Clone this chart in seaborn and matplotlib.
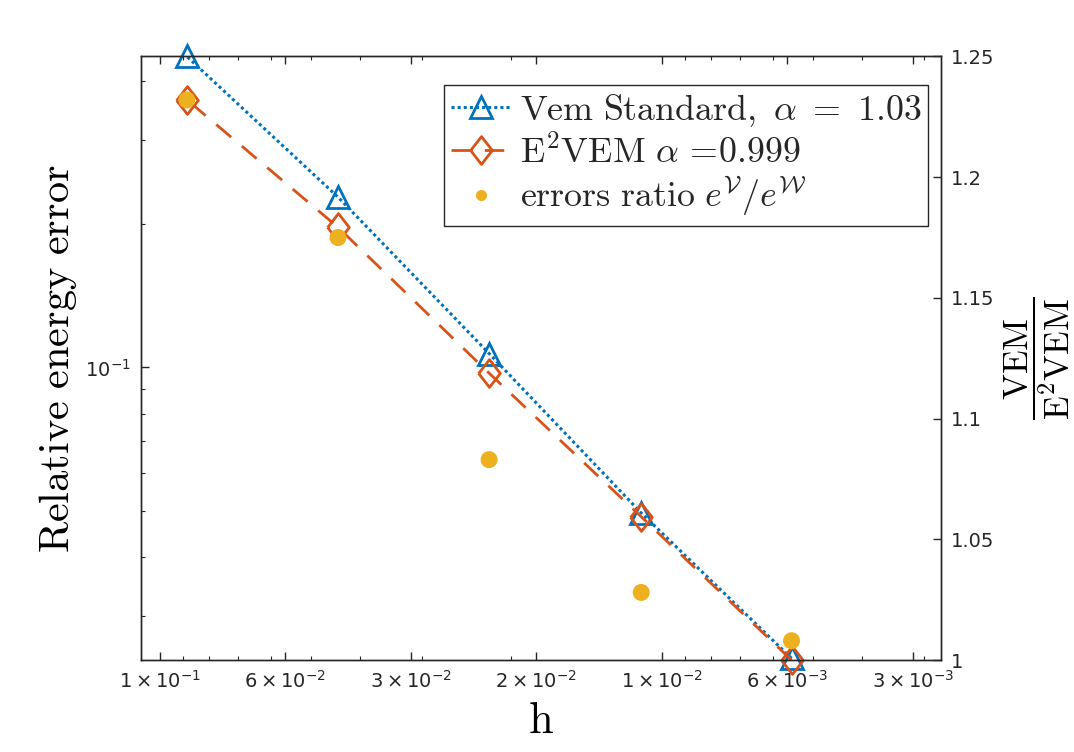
import numpy as np
import pandas as pd
import matplotlib
matplotlib.use("Agg")
import matplotlib.pyplot as plt
import seaborn as sns
from matplotlib.lines import Line2D
from matplotlib.ticker import FixedLocator, FixedFormatter, NullFormatter, LogLocator

# ---- data ----
h = [0.0884, 0.0442, 0.0221, 0.0110, 0.00552]
vem_standard = [0.450, 0.228, 0.107, 0.0495, 0.0245]
e2vem = [0.365, 0.197, 0.0973, 0.0486, 0.0243]
errors_ratio = [1.232, 1.175, 1.083, 1.028, 1.008]

x_tick_values = [10 ** (-1.0), 10 ** (-1.25), 10 ** (-1.5), 10 ** (-1.75),
                 10 ** (-2.0), 10 ** (-2.25), 10 ** (-2.5)]
x_tick_labels = [r'$1\times10^{-1}$', r'$6\times10^{-2}$', r'$3\times10^{-2}$',
                 r'$2\times10^{-2}$', r'$1\times10^{-2}$', r'$6\times10^{-3}$',
                 r'$3\times10^{-3}$']
left_tick_values = [0.1]
left_tick_labels = [r'$10^{-1}$']
right_tick_values = [1.0, 1.05, 1.1, 1.15, 1.2, 1.25]
right_tick_labels = ['1', '1.05', '1.1', '1.15', '1.2', '1.25']

label_vem = r'$\mathrm{Vem\ Standard,}\ \alpha\ {=}\ 1.03$'
label_e2 = r'$\mathrm{E^2VEM}\ \alpha\ \!{=}\!0.999$'
label_ratio = r'$\mathrm{errors\ ratio}\ e^{\mathcal{V}}/e^{\mathcal{W}}$'

df = pd.DataFrame({"h": h, "vem": vem_standard, "e2": e2vem, "ratio": errors_ratio})

BLUE = '#0072BD'
ORANGE = '#D95319'
YELLOW = '#EDB120'
AXC = '#262626'

sns.set_theme(style="white")
plt.rcParams['font.family'] = ['DejaVu Sans']
plt.rcParams['mathtext.fontset'] = 'dejavusans'
plt.rcParams['xtick.direction'] = 'in'
plt.rcParams['ytick.direction'] = 'in'

fig = plt.figure(figsize=(10.74, 7.52), dpi=100)
ax = fig.add_axes([0.1313, 0.1223, 0.7449, 0.8026])
ax2 = ax.twinx()

diamond = [(-0.39, 0.0), (0.0, 0.5), (0.39, 0.0), (0.0, -0.5), (-0.39, 0.0)]

sns.lineplot(data=df, x="h", y="vem", ax=ax, color=BLUE, linestyle=(0, (1, 1)),
             linewidth=2.2, marker='^', markersize=16, markerfacecolor='none',
             markeredgecolor=BLUE, markeredgewidth=2, clip_on=False, legend=False)
sns.lineplot(data=df, x="h", y="e2", ax=ax, color=ORANGE, linestyle=(0, (7, 5)),
             linewidth=2, marker=diamond, markersize=20, markerfacecolor='none',
             markeredgecolor=ORANGE, markeredgewidth=2, clip_on=False, legend=False)
sns.scatterplot(data=df, x="h", y="ratio", ax=ax2, color=YELLOW, s=150,
                edgecolor='none', clip_on=False, legend=False, zorder=5)

ax.set_xscale('log')
ax.set_yscale('log')
ax.set_xlim(0.1091, 0.00278)
ax.set_ylim(0.0243, 0.45)
ax2.set_ylim(1.0, 1.25)

ax.xaxis.set_major_locator(FixedLocator(x_tick_values))
ax.xaxis.set_major_formatter(FixedFormatter(x_tick_labels))
ax.xaxis.set_minor_locator(LogLocator(base=10, subs=np.arange(2, 10)))
ax.xaxis.set_minor_formatter(NullFormatter())
ax.yaxis.set_major_locator(FixedLocator(left_tick_values))
ax.yaxis.set_major_formatter(FixedFormatter(left_tick_labels))
ax.yaxis.set_minor_locator(LogLocator(base=10, subs=np.arange(2, 10)))
ax.yaxis.set_minor_formatter(NullFormatter())

ax2.yaxis.set_major_locator(FixedLocator(right_tick_values))
ax2.yaxis.set_major_formatter(FixedFormatter(right_tick_labels))

ax.tick_params(axis='x', which='both', top=True, bottom=True, colors=AXC, labelsize=14, pad=7)
ax.tick_params(axis='y', which='both', left=True, right=False, colors=AXC, labelsize=14, pad=7)
ax.tick_params(which='major', length=6, width=1)
ax.tick_params(which='minor', length=3, width=0.8)
ax2.tick_params(axis='y', which='major', right=True, length=6, width=1, colors=AXC,
                labelsize=14, direction='in', pad=7)

for a in (ax, ax2):
    for s in a.spines.values():
        s.set_color(AXC)
        s.set_linewidth(1)
        s.set_visible(True)

ax.set_xlabel(r'$\mathrm{h}$', fontsize=32, math_fontfamily='cm', color='black', labelpad=5)
ax.set_ylabel(r'$\mathrm{Relative\ energy\ error}$', fontsize=30.5, math_fontfamily='cm',
              color='black', labelpad=5)
ax2.set_ylabel(r'$\dfrac{\mathrm{VEM}}{\mathrm{E^2VEM}}$', fontsize=25, math_fontfamily='cm',
               color='black', labelpad=6)

handles = [
    Line2D([], [], color=BLUE, linestyle=(0, (1, 1)), linewidth=2.2, marker='^',
           markersize=16, markerfacecolor='none', markeredgecolor=BLUE, markeredgewidth=2),
    Line2D([], [], color=ORANGE, linestyle=(0, (7, 5)), linewidth=2, marker=diamond,
           markersize=20, markerfacecolor='none', markeredgecolor=ORANGE, markeredgewidth=2),
    Line2D([], [], color=YELLOW, linestyle='none', marker='o', markersize=8,
           markeredgecolor='none'),
]
leg = ax2.legend(handles, [label_vem, label_e2, label_ratio], loc='upper right',
                 bbox_to_anchor=(0.984, 0.953), borderaxespad=0, fontsize=25.8,
                 fancybox=False, framealpha=1, edgecolor=AXC, handlelength=1.65,
                 handletextpad=0.25, borderpad=0.2, labelspacing=0.15)
leg.get_frame().set_linewidth(1)
for t in leg.get_texts():
    t.set_math_fontfamily('cm')

fig.savefig("out.png", dpi=100)
